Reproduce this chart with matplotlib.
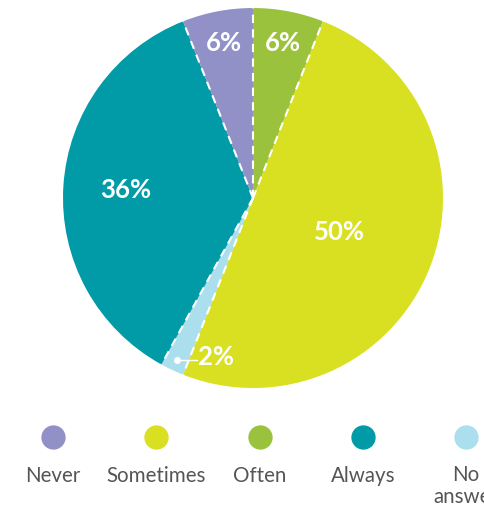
import numpy as np
import matplotlib
matplotlib.use("Agg")
import matplotlib.pyplot as plt

# Data (legend order)
categories = ["Never", "Sometimes", "Often", "Always", "No\nanswer"]
values = [6, 50, 6, 36, 2]
colors = ["#9191C8", "#D9E021", "#9BC23C", "#009BA6", "#ACDFED"]
# pie drawing order, clockwise from top
pie_order = [2, 1, 4, 3, 0]
# label distances (fraction of radius) per category
label_dist = [0.83, 0.49, 0.83, 0.67, 0.94]

W, H = 484, 507
fig = plt.figure(figsize=(W / 100, H / 100), dpi=100)
ax = fig.add_axes([0, 0, 1, 1])

cx, cy, R = 253, H - 198, 190
vals = [values[i] for i in pie_order]
cols = [colors[i] for i in pie_order]
wedges, _ = ax.pie(vals, colors=cols, startangle=90, counterclock=False,
                   center=(cx, cy), radius=R,
                   wedgeprops=dict(linewidth=0, antialiased=True))
ax.set_xlim(0, W)
ax.set_ylim(0, H)
ax.set_aspect("equal")
ax.axis("off")

# dashed white radial separators
for w in wedges:
    t = np.deg2rad(w.theta1)
    ax.plot([cx, cx + R * np.cos(t)], [cy, cy + R * np.sin(t)],
            color="white", linewidth=1.5, linestyle=(0, (4, 3)),
            solid_capstyle="butt", dash_capstyle="butt")

font = "Lato"
for w, i in zip(wedges, pie_order):
    mid = np.deg2rad((w.theta1 + w.theta2) / 2)
    d = label_dist[i] * R
    x, y = cx + d * np.cos(mid), cy + d * np.sin(mid)
    txt = f"{values[i]}%"
    if values[i] < 4:
        ax.plot([x], [y], "o", color="white", markersize=4)
        ax.plot([x, x + 20], [y, y], color="white", linewidth=1)
        ax.text(x + 21, y + 3, txt, color="white", fontsize=18.5, fontweight="bold",
                family=font, ha="left", va="center")
    else:
        ax.text(x, y, txt, color="white", fontsize=18.5, fontweight="bold",
                family=font, ha="center", va="center")

# Legend
x0, dx = 53, 103.3
for k, (cat, col) in enumerate(zip(categories, colors)):
    lx = x0 + k * dx
    ax.plot([lx], [H - 437], "o", color=col, markersize=17.5, markeredgewidth=0)
    if "\n" in cat:
        ax.text(lx, H - 465, cat, color="#555555", fontsize=14.8, family=font,
                ha="center", va="top", linespacing=1.1)
    else:
        ax.text(lx, H - 476, cat, color="#555555", fontsize=14.8, family=font,
                ha="center", va="center")

fig.savefig("out.png", dpi=100)
